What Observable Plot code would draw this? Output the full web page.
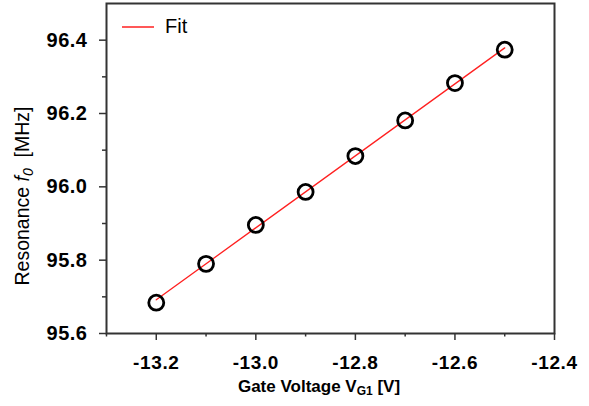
<!DOCTYPE html>
<html><head><meta charset="utf-8">
<script src="https://cdn.jsdelivr.net/npm/d3@7"></script>
<script src="https://cdn.jsdelivr.net/npm/@observablehq/plot@0.6"></script>
<style>body{margin:0;background:#fff}</style></head>
<body><div id="chart"></div>
<script>
const voltage = [-13.2, -13.1, -13.0, -12.9, -12.8, -12.7, -12.6, -12.5];
const resonance = [95.684, 95.790, 95.896, 95.986, 96.084, 96.181, 96.283, 96.374];
const fitVoltage = [-13.2, -12.5];
const fitResonance = [95.692, 96.379];
const xTicks = [-13.2, -13.0, -12.8, -12.6, -12.4];
const xMinor = [-13.3, -13.1, -12.9, -12.7, -12.5];
const yTicks = [95.6, 95.8, 96.0, 96.2, 96.4];
const yMinor = [95.7, 95.9, 96.1, 96.3];
const legendLabel = "Fit";

const points = voltage.map((v, i) => ({v, f: resonance[i]}));
const fit = fitVoltage.map((v, i) => ({v, f: fitResonance[i]}));
const font = "Liberation Sans, Arial, sans-serif";
const axisColor = "#333";

const plot = Plot.plot({
  width: 589, height: 406,
  marginLeft: 106, marginRight: 35, marginTop: 3, marginBottom: 73,
  style: {fontFamily: font, color: "#000", background: "#fff"},
  x: {domain: [-13.3, -12.4]},
  y: {domain: [95.6, 96.5]},
  marks: [
    Plot.axisX(xMinor, {tickSize: 3.5, text: null, label: null, stroke: axisColor, strokeWidth: 1.5}),
    Plot.axisX(xTicks, {tickSize: 7, tickPadding: 15, tickFormat: d => d.toFixed(1), fontSize: 19, fontWeight: "bold", stroke: axisColor, strokeWidth: 1.5, fill: "#000", label: null}),
    Plot.axisY(yMinor, {tickSize: 4, text: null, label: null, stroke: axisColor, strokeWidth: 1.5}),
    Plot.axisY(yTicks, {tickSize: 7, tickPadding: 12, tickFormat: d => d.toFixed(1), fontSize: 20, fontWeight: "bold", stroke: axisColor, strokeWidth: 1.5, fill: "#000", label: null}),
    Plot.frame({stroke: axisColor, strokeWidth: 2}),
    Plot.line(fit, {x: "v", y: "f", stroke: "#ff2020", strokeWidth: 1.3}),
    Plot.dot(points, {x: "v", y: "f", r: 7.5, stroke: "#000", strokeWidth: 2.8, fill: "none"})
  ]
});

const svg = d3.select(plot);
svg.selectAll("g[aria-label='x-axis tick label'] text").style("letter-spacing", "0.6px");
svg.selectAll("g[aria-label='y-axis tick label'] text").style("letter-spacing", "0.5px");

// y label
const yl = svg.append("text")
  .attr("transform", "translate(24,196) rotate(-90)")
  .attr("text-anchor", "middle")
  .attr("dominant-baseline", "middle")
  .attr("font-family", font).attr("font-size", 19.5).attr("fill", "#000");
yl.append("tspan").text("Resonance ");
yl.append("tspan").attr("font-style", "italic").text("f");
yl.append("tspan").attr("font-style", "italic").attr("font-size", 14).attr("dy", 5).text("0");
yl.append("tspan").attr("dy", -5).text("\u00a0 [MHz]");

// x label
const xl = svg.append("text")
  .attr("x", 319).attr("y", 392)
  .attr("text-anchor", "middle")
  .attr("font-family", font).attr("font-size", 17).attr("font-weight", "bold").attr("fill", "#000");
xl.append("tspan").text("Gate Voltage V");
xl.append("tspan").attr("font-size", 12).attr("dy", 3).text("G1");
xl.append("tspan").attr("dy", -3).text(" [V]");

// legend
svg.append("line").attr("x1", 122).attr("x2", 154).attr("y1", 27).attr("y2", 27)
  .attr("stroke", "#ff2020").attr("stroke-width", 1.5);
svg.append("text").attr("x", 165).attr("y", 28).attr("dominant-baseline", "middle")
  .attr("text-anchor", "start")
  .attr("font-family", font).attr("font-size", 20).attr("fill", "#000").text(legendLabel);

document.getElementById("chart").appendChild(plot);
</script>
</body></html>
